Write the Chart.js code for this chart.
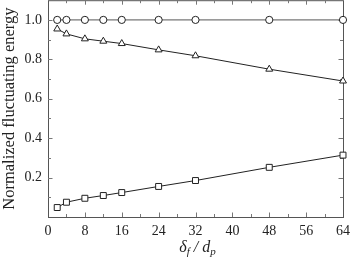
<!DOCTYPE html>
<html><head><meta charset="utf-8">
<script src="https://cdn.jsdelivr.net/npm/chart.js@4"></script>
<style>html,body{margin:0;padding:0;background:#fff;overflow:hidden}#w{width:350px;height:265px;margin-top:-5px;position:relative}</style>
</head><body><div id="w"><canvas id="c"></canvas></div>
<script>
const ratios = [2, 4, 8, 12, 16, 24, 32, 48, 64];
const circleSeries = [1.0, 1.0, 1.0, 1.0, 1.0, 1.0, 1.0, 1.0, 1.0];
const triangleSeries = [0.954, 0.929, 0.904, 0.892, 0.880, 0.848, 0.818, 0.750, 0.690];
const squareSeries = [0.048, 0.075, 0.095, 0.109, 0.124, 0.155, 0.185, 0.252, 0.314];
const xTicks = [0, 8, 16, 24, 32, 40, 48, 56, 64];
const yTicks = [0.2, 0.4, 0.6, 0.8, 1.0];
const yTitle = 'Normalized fluctuating energy';
const xTitleParts = [['δ', false], ['f', true], [' / ', false], ['d', false], ['p', true]];

const SERIF = '"Liberation Serif", "DejaVu Serif", serif';
const ink = '#222';

function ds(data, style, lineColor) {
  return {
    data: ratios.map((x, i) => ({x, y: data[i]})),
    borderColor: lineColor, borderWidth: 1,
    pointStyle: style, pointRadius: style === 'rect' ? 4.2 : (style === 'triangle' ? 4 : 3.6),
    pointBackgroundColor: '#fff', pointBorderColor: '#222', pointBorderWidth: 1,
    tension: 0, clip: false, fill: false
  };
}

const boxPlugin = {
  id: 'box',
  beforeDatasetsDraw(chart) {
    const {ctx, chartArea: a, scales} = chart;
    ctx.save();
    ctx.strokeStyle = '#555'; ctx.lineWidth = 1;
    ctx.strokeRect(a.left + 0.5, a.top + 0.5, a.right - a.left, a.bottom - a.top);
    ctx.strokeStyle = '#777';
    ctx.beginPath();
    for (let v = 4; v < 64; v += 4) {
      const px = Math.round(scales.x.getPixelForValue(v)) + 0.5;
      const len = v % 8 === 0 ? 4.5 : 3;
      ctx.moveTo(px, a.bottom); ctx.lineTo(px, a.bottom - len);
      ctx.moveTo(px, a.top); ctx.lineTo(px, a.top + len);
    }
    for (let k = 1; k <= 10; k++) {
      const v = k / 10;
      const py = Math.round(scales.y.getPixelForValue(v)) + 0.5;
      const len = k % 2 === 0 ? 4.5 : 3;
      ctx.moveTo(a.left, py); ctx.lineTo(a.left + len, py);
      ctx.moveTo(a.right, py); ctx.lineTo(a.right - len, py);
    }
    ctx.stroke();
    ctx.restore();
  },
  afterDraw(chart) {
    const {ctx, chartArea: a} = chart;
    ctx.save();
    ctx.fillStyle = ink;
    ctx.textBaseline = 'alphabetic';
    const big = 'italic 16px ' + SERIF, small = 'italic 11px ' + SERIF;
    let total = 0;
    for (const [t, sub] of xTitleParts) { ctx.font = sub ? small : big; total += ctx.measureText(t).width; }
    let x = (a.left + a.right) / 2 + 2 - total / 2;
    const base = a.bottom + 35;
    for (const [t, sub] of xTitleParts) {
      ctx.font = sub ? small : big;
      ctx.fillText(t, x, sub ? base + 3 : base);
      x += ctx.measureText(t).width;
    }
    ctx.restore();
  }
};

new Chart(document.getElementById('c'), {
  type: 'line',
  data: { datasets: [
    ds(circleSeries, 'circle', '#555'),
    ds(triangleSeries, 'triangle', '#222'),
    ds(squareSeries, 'rect', '#222')
  ]},
  options: {
    responsive: true, maintainAspectRatio: false, animation: false,
    layout: { padding: { top: 0, right: 7, left: 0, bottom: 0 } },
    plugins: { legend: { display: false }, tooltip: { enabled: false } },
    scales: {
      x: {
        type: 'linear', min: 0, max: 64,
        afterBuildTicks: s => { s.ticks = xTicks.map(v => ({value: v})); },
        afterFit: s => { s.height = 43; s.paddingLeft = 0; s.paddingRight = 0; },
        grid: { display: false, drawTicks: false },
        border: { display: false },
        ticks: { color: ink, padding: 6, font: { family: SERIF, size: 14 }, maxRotation: 0, autoSkip: false }
      },
      y: {
        type: 'linear', min: 0, max: 1.1,
        afterBuildTicks: s => { s.ticks = yTicks.map(v => ({value: v})); },
        afterFit: s => { s.width = 48; s.paddingTop = 0; s.paddingBottom = 0; },
        grid: { display: false, drawTicks: false },
        border: { display: false },
        ticks: { color: ink, padding: 6, font: { family: SERIF, size: 14 }, autoSkip: false, callback: v => Number(v).toFixed(1) },
        title: { display: true, text: yTitle, color: ink, font: { family: SERIF, size: 16.5 }, padding: { top: 0, bottom: 0 } }
      }
    }
  },
  plugins: [boxPlugin]
});
</script></body></html>
